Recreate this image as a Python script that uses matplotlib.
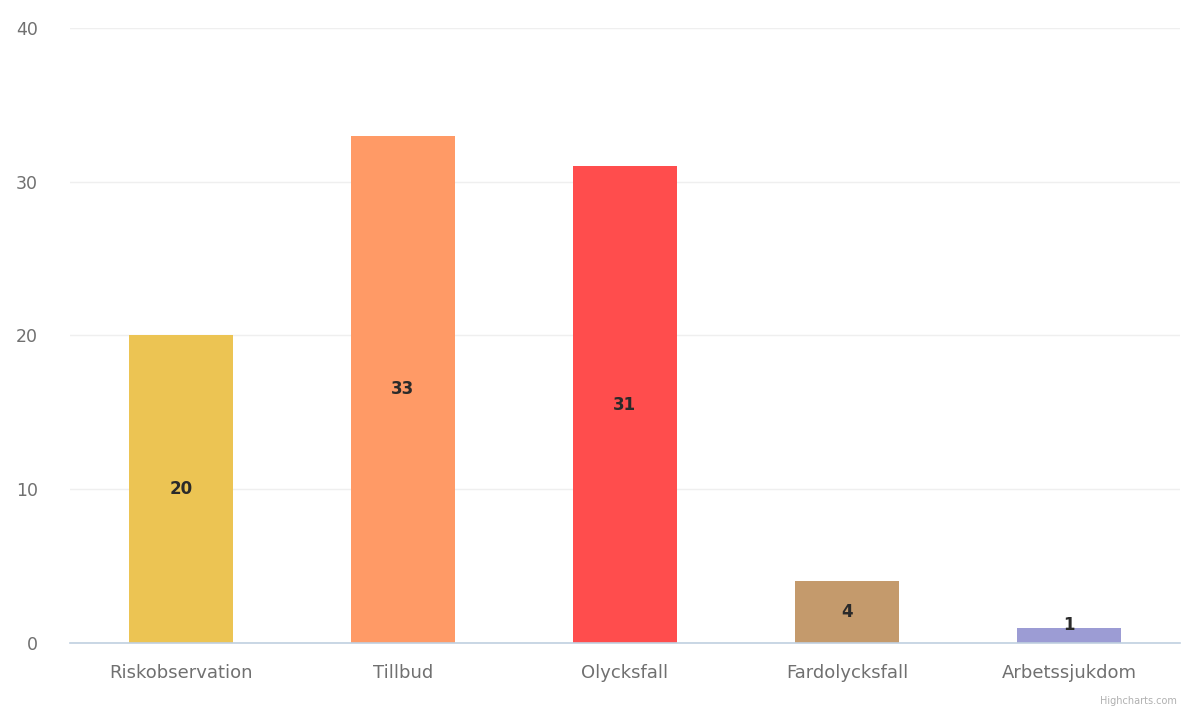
import matplotlib
matplotlib.use("Agg")
import matplotlib.pyplot as plt

categories = ["Riskobservation", "Tillbud", "Olycksfall", "Fardolycksfall", "Arbetssjukdom"]
values = [20, 33, 31, 4, 1]
colors = ["#ECC453", "#FF9A66", "#FF4D4D", "#C49A6C", "#9C9CD4"]
yticks = [0, 10, 20, 30, 40]

plt.rcParams['font.family'] = ['DejaVu Sans']

fig = plt.figure(figsize=(11.83, 7.15), dpi=100)
ax = fig.add_axes([0.059, 0.1007, 0.9385, 0.8603])

x = list(range(len(categories)))
ax.bar(x, values, width=0.47, color=colors, zorder=3)
for xi, v in zip(x, values):
    ax.text(xi, max(v / 2, 1.2), str(v), ha='center', va='center', fontsize=12,
            fontweight='bold', color='#2a2a2a', zorder=4)

ax.set_xlim(-0.5, len(categories) - 0.5)
ax.set_ylim(0, 40)
ax.set_yticks(yticks)
ax.set_xticks(x)
ax.set_xticklabels(categories)
ax.grid(axis='y', color='#efefef', linewidth=1, zorder=0)
for s in ['top', 'right', 'left']:
    ax.spines[s].set_visible(False)
ax.spines['bottom'].set_color('#C0D0E0')
ax.spines['bottom'].set_linewidth(1.2)
ax.spines['bottom'].set_zorder(5)
ax.tick_params(axis='y', length=0, pad=23, labelsize=12.5, labelcolor='#707070')
ax.tick_params(axis='x', length=0, pad=15, labelsize=13, labelcolor='#707070')

fig.text(0.995, 0.012, "Highcharts.com", ha='right', va='bottom', fontsize=7,
         color='#b0b0b0')

fig.savefig("out.png", dpi=100)
